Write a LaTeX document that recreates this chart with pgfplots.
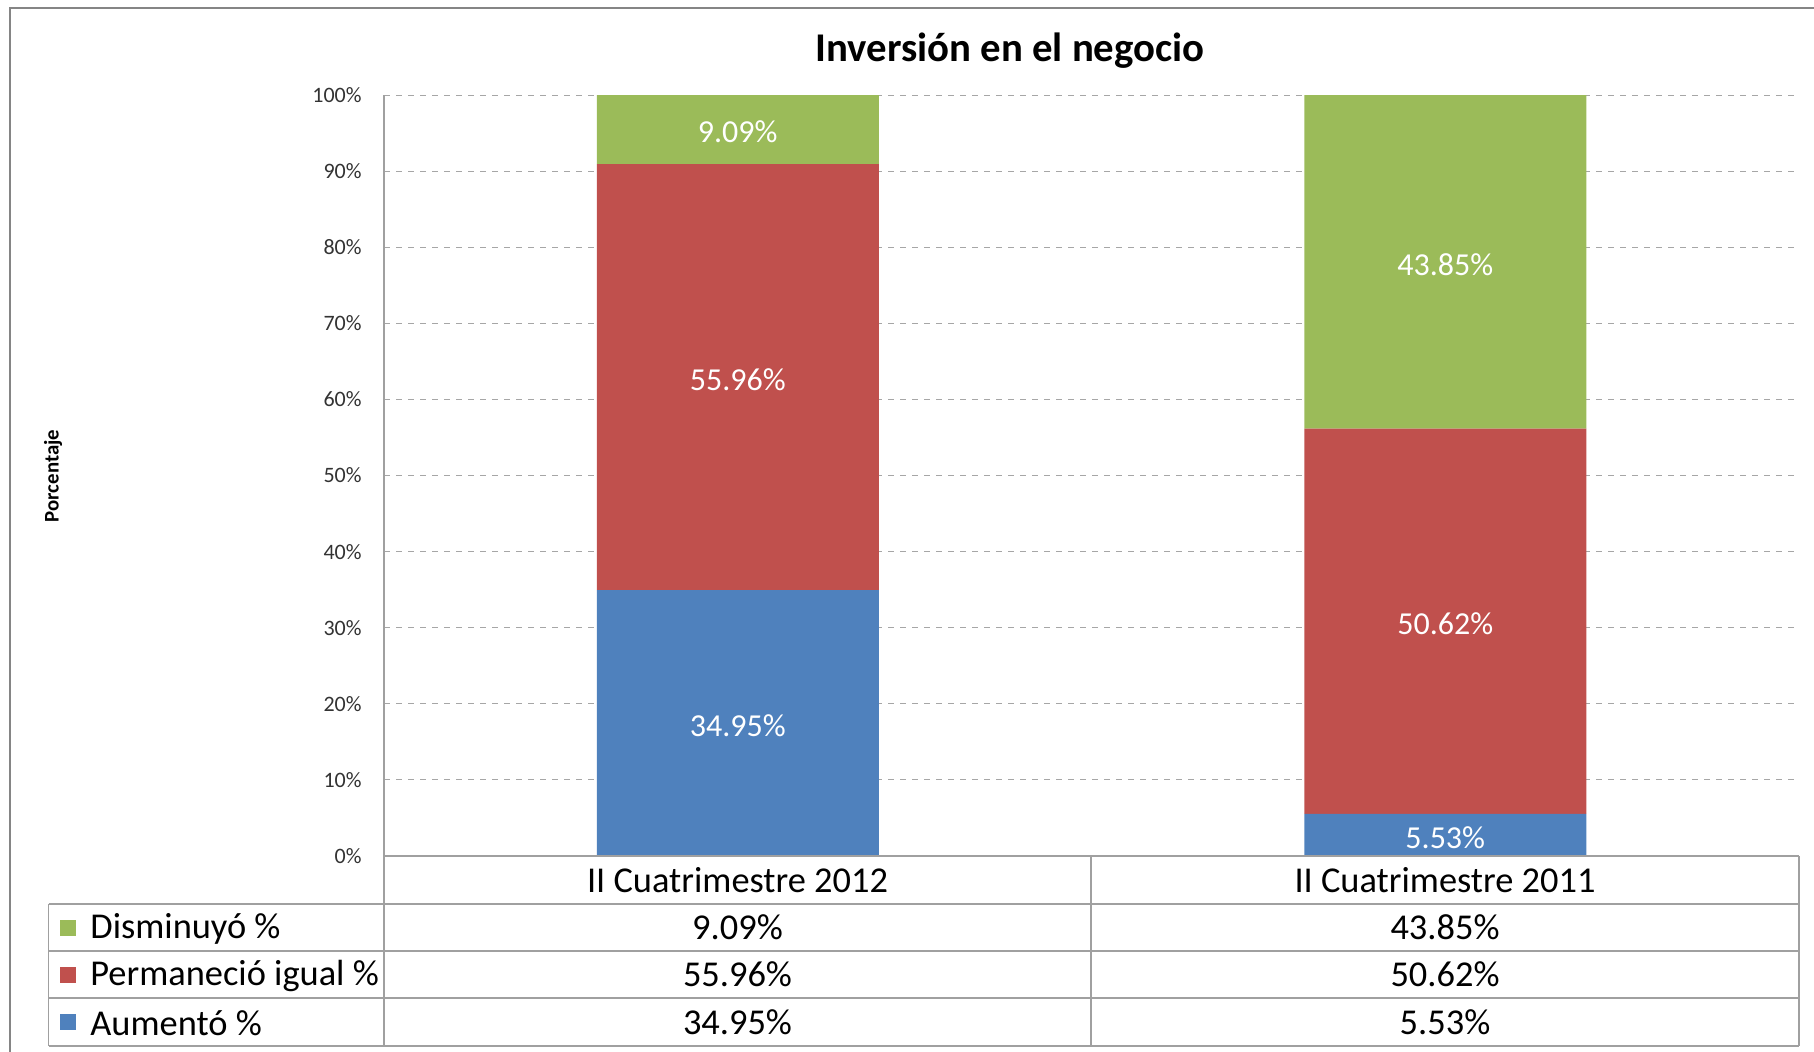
\documentclass[border=0pt]{standalone}
\usepackage{pgfplots}
\pgfplotsset{compat=1.18}
\usepackage{fontspec}
\setmainfont{Carlito}
\definecolor{cgreen}{HTML}{9BBB59}
\definecolor{cred}{HTML}{C0504D}
\definecolor{cblue}{HTML}{4F81BD}
\definecolor{gridc}{HTML}{A6A6A6}
\definecolor{framec}{HTML}{858585}
\definecolor{tabc}{HTML}{A0A0A0}
\begin{document}
\begin{tikzpicture}
\begin{scope}[x=0.5pt,y=-0.5pt]
\useasboundingbox (0,0) rectangle (1814,1051);
\draw[framec, line width=1.2pt] (10,8) rectangle (1850,1090);
\node[font=\bfseries\fontsize{20.4}{24}\selectfont] at (1010,51) {Inversión en el negocio};
\node[rotate=90, font=\bfseries\fontsize{10.4}{12}\selectfont] at (53,476) {Porcentaje};
\end{scope}

\begin{axis}[
  at={(192pt,-428pt)}, anchor=south west,
  scale only axis, width=707.5pt, height=380.5pt,
  xmin=-0.5, xmax=1.5, ymin=0, ymax=100,
  ybar stacked, bar width=141pt,
  xtick=\empty, ytick={0,10,...,100},
  yticklabel={\pgfmathprintnumber{\tick}\%},
  yticklabel style={font=\fontsize{11}{13}\selectfont, text=black!80, inner sep=0pt, xshift=-11pt},
  major tick length=0pt,
  ymajorgrids, grid style={gridc, dashed, line width=0.5pt},
  axis x line*=bottom, axis y line*=left,
  axis line style={tabc, line width=0.6pt},
  /pgf/number format/assume math mode=true,
  enlargelimits=false, clip=false
]
\addplot[fill=cblue, draw=none] coordinates {(0,34.95) (1,5.53)};
\addplot[fill=cred, draw=none] coordinates {(0,55.96) (1,50.62)};
\addplot[fill=cgreen, draw=none] coordinates {(0,9.09) (1,43.85)};
\end{axis}

\begin{axis}[
  at={(192pt,-428pt)}, anchor=south west,
  scale only axis, width=707.5pt, height=380.5pt,
  xmin=-0.5, xmax=1.5, ymin=0, ymax=100,
  hide axis, clip=false
]
\addplot[draw=none, mark=none, nodes near coords, point meta=explicit symbolic,
  every node near coord/.append style={anchor=center, yshift=-1.2pt, text=white, font=\fontsize{16}{19}\selectfont}]
  coordinates {(0,17.475)[34.95\%] (1,2.765)[5.53\%] (0,62.93)[55.96\%] (1,30.84)[50.62\%] (0,95.455)[9.09\%] (1,78.075)[43.85\%]};
\end{axis}

\begin{scope}[x=0.5pt,y=-0.5pt]
\draw[tabc, line width=0.6pt] (384,856) -- (1799,856) (48.6,904) -- (1799,904)
  (48.6,951) -- (1799,951) (48.6,998) -- (1799,998) (48.6,1046) -- (1799,1046)
  (384,856) -- (384,1046) (1091,856) -- (1091,1046) (1799,856) -- (1799,1046)
  (48.6,904) -- (48.6,1046);
\begin{scope}[every node/.style={font=\fontsize{18.2}{21}\selectfont}]
\node at (737.5,880) {II Cuatrimestre 2012};
\node at (1445,880) {II Cuatrimestre 2011};
\node at (737.5,927.5) {9.09\%};
\node at (1445,927.5) {43.85\%};
\node at (737.5,974.5) {55.96\%};
\node at (1445,974.5) {50.62\%};
\node at (737.5,1022) {34.95\%};
\node at (1445,1022) {5.53\%};
\fill[cgreen] (60,919.5) rectangle (76,935.5);
\fill[cred] (60,966.5) rectangle (76,982.5);
\fill[cblue] (60,1014) rectangle (76,1030);
\node[anchor=west, inner sep=0pt] at (90,928.5) {Disminuyó \%};
\node[anchor=west, inner sep=0pt] at (90,975.5) {Permaneció igual \%};
\node[anchor=west, inner sep=0pt] at (90,1023) {Aumentó \%};
\end{scope}
\end{scope}
\end{tikzpicture}
\end{document}
